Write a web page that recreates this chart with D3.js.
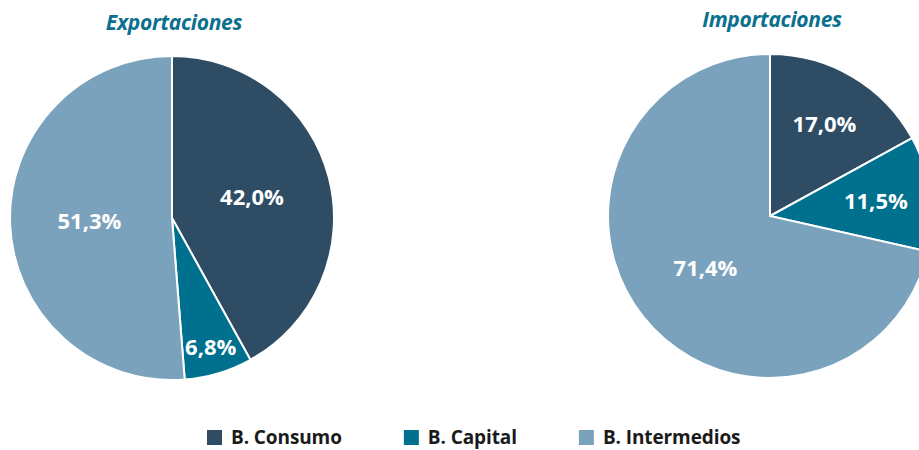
<!DOCTYPE html>
<html>
<head>
<meta charset="utf-8">
<script src="https://cdn.jsdelivr.net/npm/d3@7"></script>
<style>
    body { margin: 0; background: #fff; }
    svg text { font-family: "Open Sans", "Noto Sans", sans-serif; }
</style>
</head>
<body>
<div id="chart"></div>
<script>
// categories and values (percent)
let categories = ['B. Consumo', 'B. Capital', 'B. Intermedios'];
let exportValues = [42.0, 6.8, 51.3];
let importValues = [17.0, 11.5, 71.4];
let chartTitles = ['Exportaciones', 'Importaciones'];

let colors = ['#2e4c64', '#00708f', '#7ba2bd'];

let width = 919, height = 450;

let svg = d3.select('#chart').append('svg')
    .attr('width', width)
    .attr('height', height);

let radius = 162;
let color = d3.scaleOrdinal().domain(categories).range(colors);

let pie = d3.pie().sort(null).value(d => d.value);
let arc = d3.arc().innerRadius(0).outerRadius(radius);

// label distance from centre depends on slice size
function labelRadius(v) {
    if (v < 10) return radius * 0.83;
    if (v < 20) return radius * 0.66;
    return radius * 0.51;
}

let fmt = v => v.toFixed(1).replace('.', ',') + '%';

function drawPie(values, title, cx, cy, titleY) {
    let data = categories.map((c, i) => ({category: c, value: values[i]}));
    let g = svg.append('g').attr('transform', `translate(${cx}, ${cy})`);

    let arcs = pie(data);

    g.selectAll('.slice')
        .data(arcs)
        .enter().append('path')
        .attr('class', 'slice')
        .attr('d', arc)
        .attr('fill', d => color(d.data.category))
        .attr('stroke', '#fff')
        .attr('stroke-width', 2);

    g.selectAll('.label')
        .data(arcs)
        .enter().append('text')
        .attr('class', 'label')
        .attr('transform', d => {
            let r = labelRadius(d.data.value);
            let c = d3.arc().innerRadius(r).outerRadius(r).centroid(d);
            return `translate(${c[0]}, ${c[1]})`;
        })
        .attr('text-anchor', 'middle')
        .attr('dy', '0.36em')
        .attr('fill', '#fff')
        .attr('font-size', 22)
        .attr('font-weight', 700)
        .text(d => fmt(d.data.value));

    svg.append('text')
        .attr('x', cx + 2)
        .attr('y', titleY)
        .attr('text-anchor', 'middle')
        .attr('fill', '#0b6f8e')
        .attr('font-size', 21)
        .attr('font-weight', 700)
        .attr('font-style', 'italic')
        .attr('letter-spacing', -0.3)
        .text(title);
}

drawPie(exportValues, chartTitles[0], 172, 218, 30);
drawPie(importValues, chartTitles[1], 770, 216, 27);

// legend: items laid out one after the other
let legend = svg.append('g').attr('class', 'legend')
    .attr('transform', 'translate(207, 430)');

let items = legend.selectAll('.item')
    .data(categories)
    .enter().append('g')
    .attr('class', 'item');

items.append('rect')
    .attr('width', 15)
    .attr('height', 15)
    .attr('fill', d => color(d));

items.append('text')
    .attr('x', 24)
    .attr('y', 14)
    .attr('fill', '#1a1a1a')
    .attr('font-size', 19)
    .attr('font-weight', 700)
    .attr('letter-spacing', -0.1)
    .text(d => d);

let offset = 0;
items.each(function () {
    d3.select(this).attr('transform', `translate(${offset}, 0)`);
    offset += 24 + d3.select(this).select('text').node().getComputedTextLength() + 62;
});
</script>
</body>
</html>
